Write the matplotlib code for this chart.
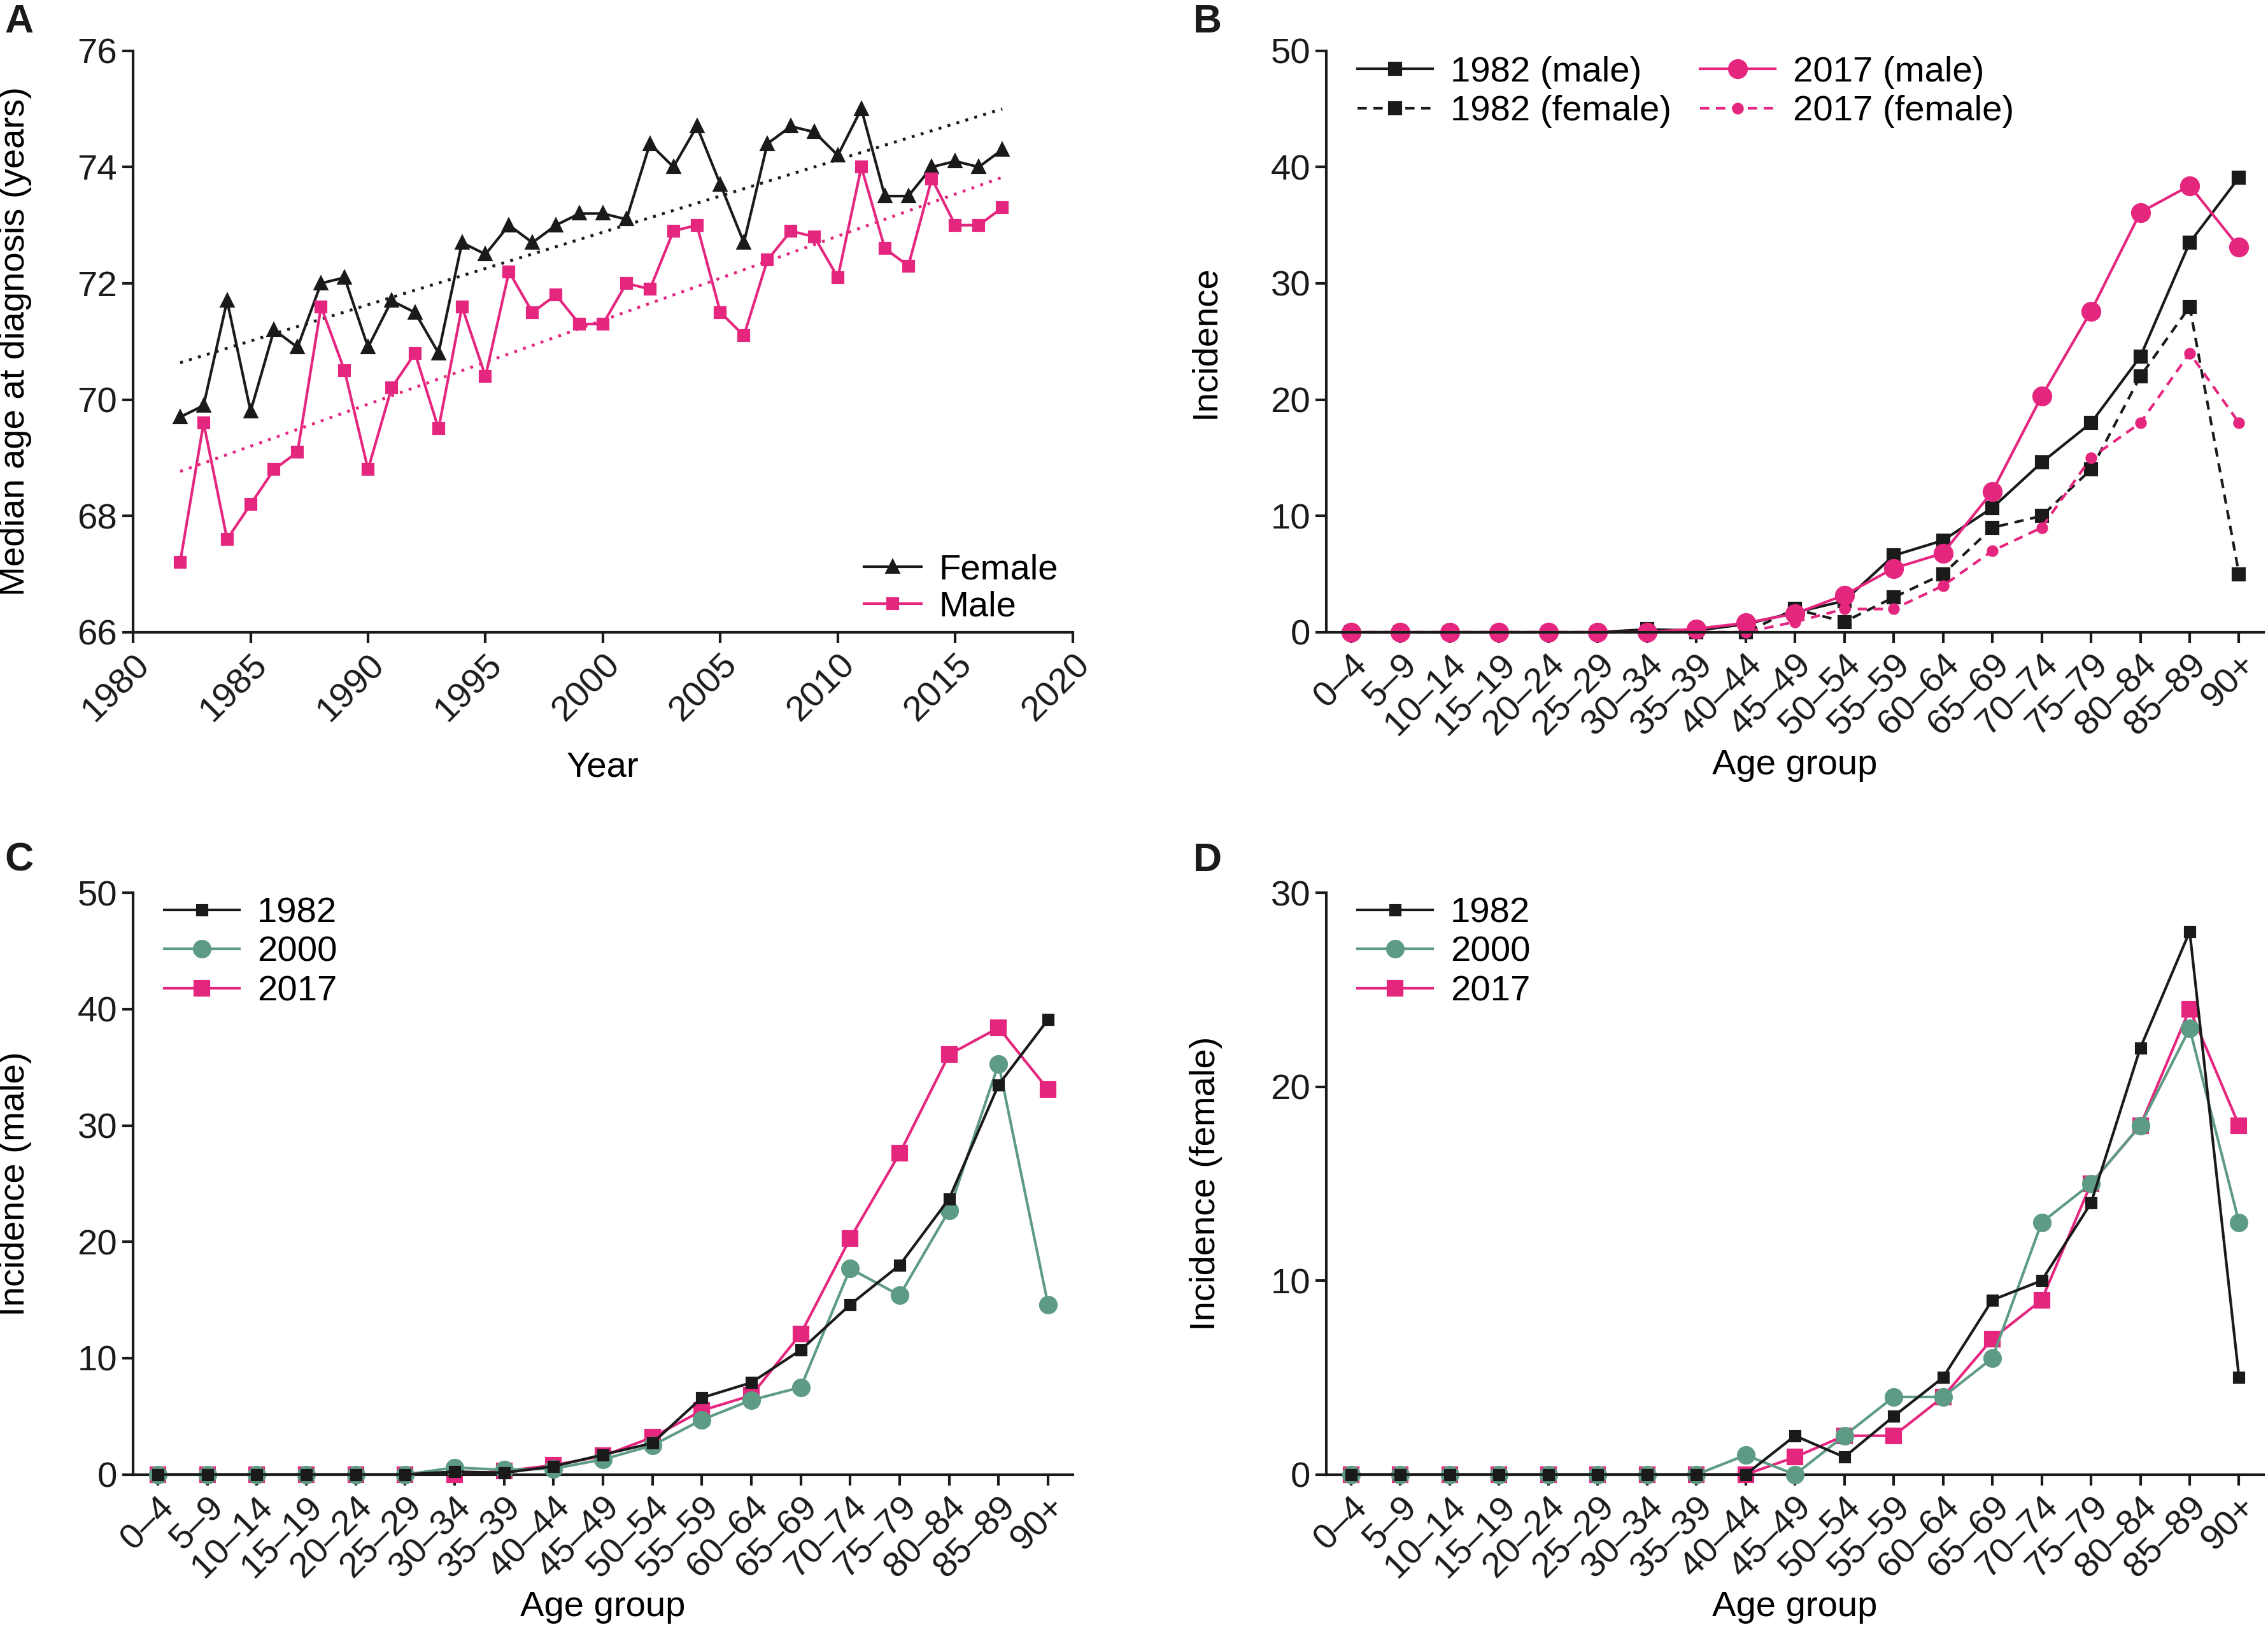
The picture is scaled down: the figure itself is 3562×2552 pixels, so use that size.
import numpy as np
import matplotlib
matplotlib.use("Agg")
import matplotlib.pyplot as plt

# ---- data -------------------------------------------------------------
years = list(range(1982, 2018))
female_median = [69.7, 69.9, 71.7, 69.8, 71.2, 70.9, 72.0, 72.1, 70.9, 71.7,
                 71.5, 70.8, 72.7, 72.5, 73.0, 72.7, 73.0, 73.2, 73.2, 73.1,
                 74.4, 74.0, 74.7, 73.7, 72.7, 74.4, 74.7, 74.6, 74.2, 75.0,
                 73.5, 73.5, 74.0, 74.1, 74.0, 74.3]
male_median = [67.2, 69.6, 67.6, 68.2, 68.8, 69.1, 71.6, 70.5, 68.8, 70.2,
               70.8, 69.5, 71.6, 70.4, 72.2, 71.5, 71.8, 71.3, 71.3, 72.0,
               71.9, 72.9, 73.0, 71.5, 71.1, 72.4, 72.9, 72.8, 72.1, 74.0,
               72.6, 72.3, 73.8, 73.0, 73.0, 73.3]

age_groups = ["0–4", "5–9", "10–14", "15–19", "20–24", "25–29", "30–34",
              "35–39", "40–44", "45–49", "50–54", "55–59", "60–64", "65–69",
              "70–74", "75–79", "80–84", "85–89", "90+"]

male_1982 = [0, 0, 0, 0, 0, 0, 0.25, 0.15, 0.7, 1.7, 2.7, 6.6, 7.9, 10.7,
             14.6, 18.0, 23.7, 33.5, 39.1]
male_2000 = [0, 0, 0, 0, 0, 0, 0.6, 0.4, 0.5, 1.3, 2.5, 4.7, 6.4, 7.5,
             17.7, 15.4, 22.7, 35.3, 14.6]
male_2017 = [0, 0, 0, 0, 0, 0, 0, 0.3, 0.8, 1.6, 3.2, 5.5, 6.8, 12.1,
             20.3, 27.6, 36.1, 38.4, 33.1]

female_1982 = [0, 0, 0, 0, 0, 0, 0, 0, 0, 2.0, 0.9, 3.0, 5.0, 9.0,
               10.0, 14.0, 22.0, 28.0, 5.0]
female_2000 = [0, 0, 0, 0, 0, 0, 0, 0, 1.0, 0, 2.0, 4.0, 4.0, 6.0,
               13.0, 15.0, 18.0, 23.0, 13.0]
female_2017 = [0, 0, 0, 0, 0, 0, 0, 0, 0, 0.9, 2.0, 2.0, 4.0, 7.0,
               9.0, 15.0, 18.0, 24.0, 18.0]

# ---- style ------------------------------------------------------------
BLACK = "#1a1a1a"
PINK = "#e5267f"
GREEN = "#5e9b84"
FONT = ["Liberation Sans", "DejaVu Sans"]
TICK_FS = 13.5
LABEL_FS = 13.5

plt.rcParams.update({
    "font.family": FONT,
    "font.size": TICK_FS,
    "axes.linewidth": 1.0,
    "axes.edgecolor": BLACK,
    "xtick.major.width": 1.0,
    "ytick.major.width": 1.0,
    "xtick.major.size": 4,
    "ytick.major.size": 4,
    "xtick.labelsize": TICK_FS,
    "ytick.labelsize": TICK_FS,
    "legend.fontsize": TICK_FS,
})

fig = plt.figure(figsize=(3562 / 300, 2552 / 300), dpi=300, facecolor="white")
axA = fig.add_axes([0.0587, 0.6109, 0.4143, 0.3579])
axB = fig.add_axes([0.5848, 0.6109, 0.4133, 0.3579])
axC = fig.add_axes([0.0587, 0.0926, 0.4143, 0.3580])
axD = fig.add_axes([0.5848, 0.0926, 0.4133, 0.3580])


def style_axis(ax):
    for side in ("top", "right"):
        ax.spines[side].set_visible(False)
    ax.tick_params(direction="out", colors=BLACK, pad=2)


def age_axis(ax, ymax, ystep, ylabel):
    style_axis(ax)
    x = np.arange(len(age_groups))
    ax.set_xlim(-0.5, len(age_groups) - 0.5)
    ax.set_ylim(0, ymax)
    ax.set_yticks(np.arange(0, ymax + 1, ystep))
    ax.set_xticks(x)
    ax.set_xticklabels(age_groups, rotation=45, ha="right", va="top",
                       rotation_mode="anchor")
    ax.set_xlabel("Age group", fontsize=LABEL_FS)
    ax.set_ylabel(ylabel, fontsize=LABEL_FS)
    ax.xaxis.set_label_coords(0.5, -0.2)
    return x


# ---- A: median age ----------------------------------------------------
style_axis(axA)
yrs = np.array(years)
for vals, color in ((female_median, BLACK), (male_median, PINK)):
    k, b = np.polyfit(yrs, vals, 1)
    axA.plot(yrs, k * yrs + b, color=color, lw=1.1, ls=(0, (1, 2.2)))
axA.plot(years, female_median, color=BLACK, lw=1.0, marker="^", ms=4.2,
         mec=BLACK, mfc=BLACK, label="Female", clip_on=False)
axA.plot(years, male_median, color=PINK, lw=1.0, marker="s", ms=4.0,
         mec=PINK, mfc=PINK, label="Male", clip_on=False)
axA.set_xlim(1980, 2020)
axA.set_ylim(66, 76)
axA.set_xticks(range(1980, 2021, 5))
axA.set_yticks(range(66, 77, 2))
plt.setp(axA.get_xticklabels(), rotation=45, ha="right", va="top",
         rotation_mode="anchor")
axA.set_xlabel("Year", fontsize=LABEL_FS)
axA.set_ylabel("Median age at diagnosis (years)", fontsize=LABEL_FS)
axA.xaxis.set_label_coords(0.5, -0.204)
axA.yaxis.set_label_coords(-0.108, 0.5)
axA.legend(loc="lower right", bbox_to_anchor=(1.0, -0.01), frameon=False,
           handlelength=1.6, handletextpad=0.5, labelspacing=0.1,
           borderaxespad=0.0)

# ---- B: 1982 vs 2017 by sex --------------------------------------------
x = age_axis(axB, 50, 10, "Incidence")
axB.yaxis.set_label_coords(-0.111, 0.5)
dash = (0, (3.5, 2.5))
axB.plot(x, male_1982, color=BLACK, lw=1.0, marker="s", ms=4.3,
         label="1982 (male)", clip_on=False)
axB.plot(x, female_1982, color=BLACK, lw=1.0, ls=dash, marker="s", ms=4.3,
         label="1982 (female)", clip_on=False)
axB.plot(x, male_2017, color=PINK, lw=1.0, marker="o", ms=6.5,
         label="2017 (male)", clip_on=False)
axB.plot(x, female_2017, color=PINK, lw=1.0, ls=dash, marker="o", ms=3.4,
         label="2017 (female)", clip_on=False)
axB.legend(loc="upper left", bbox_to_anchor=(0.01, 1.028), ncol=2,
           frameon=False, handlelength=2.1, handletextpad=0.5,
           columnspacing=0.8, labelspacing=0.17, borderaxespad=0.2)

# ---- C / D: three years ---------------------------------------------
for ax, ymax, ystep, ylabel, series in (
        (axC, 50, 10, "Incidence (male)", (male_1982, male_2000, male_2017)),
        (axD, 30, 10, "Incidence (female)", (female_1982, female_2000, female_2017))):
    x = age_axis(ax, ymax, ystep, ylabel)
    v82, v00, v17 = series
    h17, = ax.plot(x, v17, color=PINK, lw=1.0, marker="s", ms=5.3,
                   label="2017", clip_on=False, zorder=2)
    h00, = ax.plot(x, v00, color=GREEN, lw=1.0, marker="o", ms=6.0,
                   label="2000", clip_on=False, zorder=3)
    h82, = ax.plot(x, v82, color=BLACK, lw=1.0, marker="s", ms=3.6,
                   label="1982", clip_on=False, zorder=4)
    ax.legend(handles=[h82, h00, h17], loc="upper left",
              bbox_to_anchor=(0.01, 1.03), frameon=False, handlelength=2.1,
              handletextpad=0.5, labelspacing=0.17, borderaxespad=0.2)
axC.yaxis.set_label_coords(-0.108, 0.5)
axD.yaxis.set_label_coords(-0.111, 0.5)

# ---- panel letters ------------------------------------------------------
for letter, (px, py) in zip("ABCD", ((0.002, 0.998), (0.526, 0.998),
                                      (0.002, 0.482), (0.526, 0.482))):
    fig.text(px, py, letter, ha="left", va="top", fontsize=15,
             fontweight="bold", color=BLACK)

fig.savefig("out.png", dpi=300, facecolor="white")
